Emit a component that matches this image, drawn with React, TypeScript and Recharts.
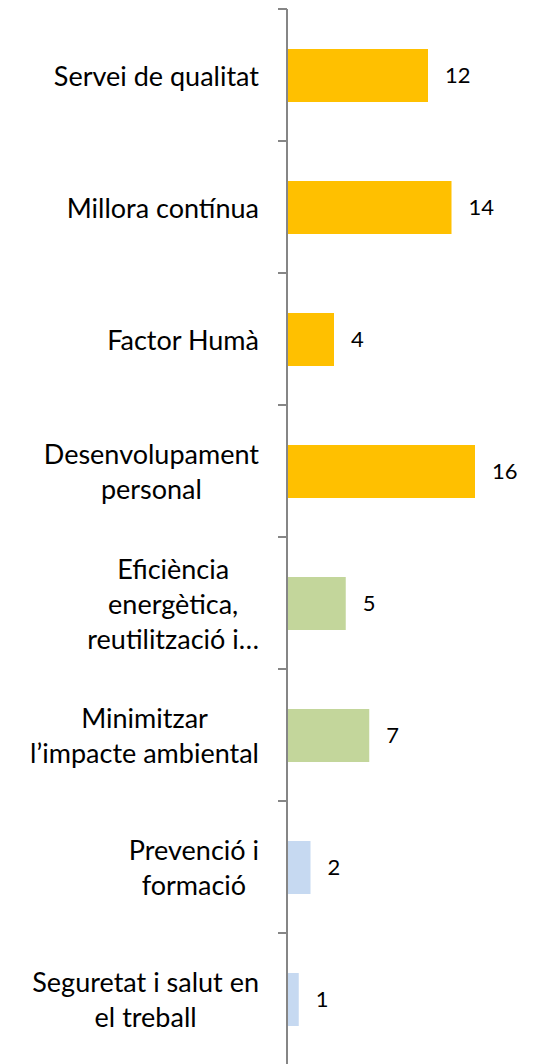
import { BarChart, Bar, XAxis, YAxis, LabelList, Cell } from 'recharts';

const categories = [
  'Servei de qualitat',
  'Millora contínua',
  'Factor Humà',
  'Desenvolupament personal',
  'Eficiència energètica, reutilització i…',
  'Minimitzar l’impacte ambiental',
  'Prevenció i formació',
  'Seguretat i salut en el treball',
];

// how the labels wrap in the original
const labelLines = [
  ['Servei de qualitat'],
  ['Millora contínua'],
  ['Factor Humà'],
  ['Desenvolupament', 'personal'],
  ['Eficiència', 'energètica,', 'reutilització i…'],
  ['Minimitzar', 'l’impacte ambiental'],
  ['Prevenció i', 'formació'],
  ['Seguretat i salut en', 'el treball'],
];

const values = [12, 14, 4, 16, 5, 7, 2, 1];
const groups = ['qualitat', 'qualitat', 'qualitat', 'qualitat', 'medi', 'medi', 'seguretat', 'seguretat'];

const groupColors: Record<string, string> = {
  qualitat: '#FFC000',
  medi: '#C3D69B',
  seguretat: '#C6D9F1',
};

const data = categories.map((name, i) => ({ name, value: values[i], group: groups[i], lines: labelLines[i] }));

const W = 541;
const H = 1065;
const TOP = 9;
const AXIS_X = 287;
const FONT = 'Lato, "Open Sans", sans-serif';
const band = (H - TOP) / categories.length;

const CategoryTick = (props: any) => {
  const { x, y, index } = props;
  const lines = labelLines[index] || [];
  const lh = 35;
  return (
    <g>
      <line x1={x - 9} x2={x} y1={y - band / 2} y2={y - band / 2} stroke="#868686" strokeWidth={2} />
      {index === categories.length - 1 && (
        <line x1={x - 9} x2={x} y1={y + band / 2} y2={y + band / 2} stroke="#868686" strokeWidth={2} />
      )}
      <foreignObject x={0} y={y - 60} width={x - 28} height={120}>
        <div
          style={{
            display: 'flex',
            justifyContent: 'flex-end',
            alignItems: 'center',
            height: 120,
          }}
        >
          <div style={{ textAlign: 'center', fontFamily: FONT, fontSize: 27, lineHeight: `${lh}px`, color: '#000' }}>
            {lines.map((l: string, k: number) => (
              <div key={k} style={{ whiteSpace: 'nowrap' }}>{l}</div>
            ))}
          </div>
        </div>
      </foreignObject>
    </g>
  );
};

export default function App() {
  return (
    <div style={{ position: 'absolute', left: 0, top: 0, background: '#fff' }}>
      <BarChart
        width={W}
        height={H}
        data={data}
        layout="vertical"
        margin={{ top: TOP, right: 19, bottom: 0, left: 0 }}
        barCategoryGap={0}
      >
        <XAxis type="number" domain={[0, 20]} hide />
        <YAxis
          type="category"
          dataKey="name"
          width={AXIS_X}
          axisLine={{ stroke: '#868686', strokeWidth: 2 }}
          tickLine={false}
          tickSize={0}
          tickMargin={0}
          tick={<CategoryTick />}
          interval={0}
        />
        <Bar dataKey="value" barSize={53} isAnimationActive={false}>
          {data.map((d, i) => (
            <Cell key={i} fill={groupColors[d.group]} />
          ))}
          <LabelList
            dataKey="value"
            position="right"
            offset={17}
            style={{ fontFamily: FONT, fontSize: 22, fill: '#000' }}
          />
        </Bar>
      </BarChart>
    </div>
  );
}
